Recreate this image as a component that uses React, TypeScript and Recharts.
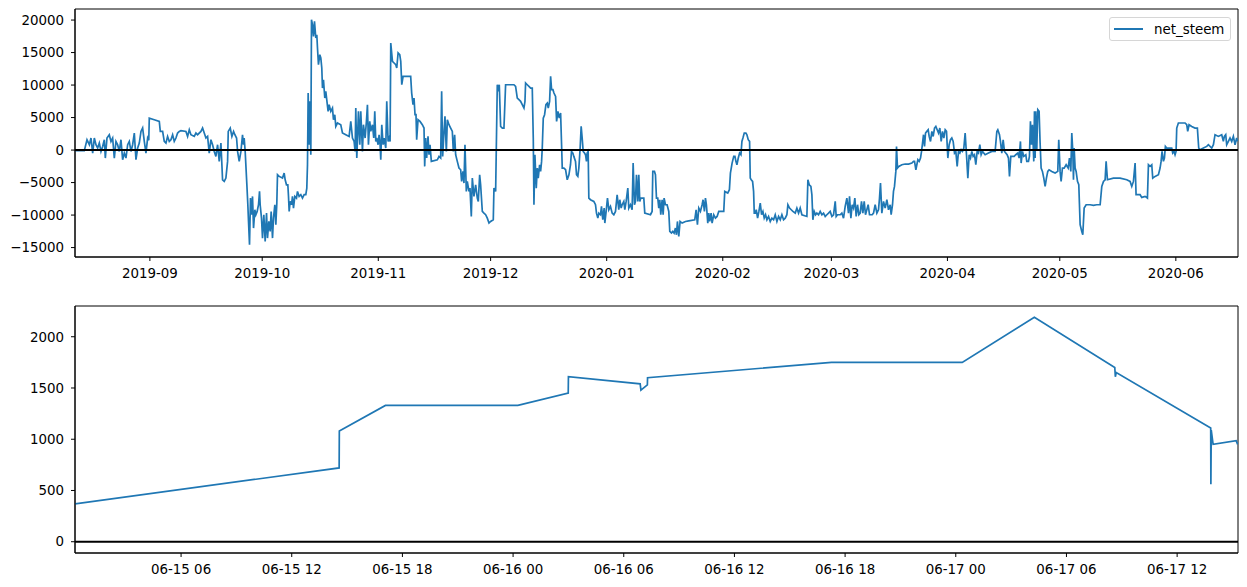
import {
  LineChart,
  Line,
  XAxis,
  YAxis,
  ReferenceLine,
  ReferenceArea,
} from "recharts";

// top panel: days since 2019-08-12, net_steem values
const topDays = [
  0, 2.49, 3.2, 3.83, 4.27, 4.72, 5.16, 5.6, 6.05, 6.49,
  6.94, 7.38, 7.83, 8.1, 8.54, 9.16, 9.61, 10.05, 10.5, 10.94,
  11.39, 11.83, 12.28, 12.72, 13.17, 13.61, 14.06, 14.5, 14.95, 15.39,
  15.84, 16.28, 16.73, 17.17, 17.62, 18.06, 18.51, 18.95, 19.4, 19.7,
  19.84, 21.17, 22.51, 22.78, 23.4, 23.84, 24.29, 24.73, 25.18, 25.62,
  26.07, 26.51, 26.96, 27.4, 27.85, 28.29, 29.63, 30.07, 30.52, 30.96,
  31.85, 32.3, 32.74, 33.63, 34.07, 34.52, 34.96, 35.41, 35.85, 36.3,
  36.74, 37.19, 37.63, 38.08, 38.52, 38.97, 39.41, 39.86, 40.3, 40.75,
  40.93, 41.46, 41.9, 42.35, 42.7, 43.15, 43.42, 43.86, 44.31, 44.74,
  45.0, 45.18, 45.45, 45.9, 46.16, 46.34, 46.61, 46.87, 47.14, 47.41,
  47.68, 48.03, 48.3, 48.65, 49.01, 49.28, 49.45, 49.81, 50.08, 50.43,
  50.79, 51.15, 51.41, 51.77, 52.12, 52.39, 52.75, 53.01, 53.37, 53.64,
  53.9, 54.08, 54.53, 55.42, 55.86, 56.13, 56.48, 56.84, 57.02, 57.2,
  57.46, 57.82, 58.08, 58.35, 58.71, 59.15, 59.42, 59.86, 60.31, 60.75,
  61.2, 61.64, 61.91, 62.09, 62.27, 62.53, 62.71, 62.98, 63.16, 63.42,
  63.69, 63.96, 64.31, 64.58, 64.76, 65.02, 65.38, 65.65, 65.91, 66.09,
  66.36, 66.71, 66.98, 67.34, 67.6, 67.87, 68.32, 68.76, 69.03, 69.38,
  69.65, 70.09, 70.98, 71.43, 72.32, 73.21, 73.65, 74.1, 74.54, 74.81,
  74.99, 75.26, 75.7, 76.06, 76.32, 76.77, 77.03, 77.48, 77.83, 78.1,
  78.37, 78.72, 78.99, 79.44, 79.79, 80.06, 80.33, 80.59, 80.95, 81.21,
  81.48, 81.66, 81.93, 82.28, 82.55, 83.0, 83.26, 83.62, 83.89, 84.15,
  84.33, 84.78, 85.22, 85.67, 85.93, 86.29, 86.73, 87.0, 87.27, 87.62,
  88.33, 89.65, 89.92, 90.27, 90.54, 90.81, 91.07, 91.25, 91.61, 92.14,
  92.76, 93.21, 93.39, 93.65, 93.92, 94.28, 94.54, 94.81, 95.17, 96.77,
  97.21, 97.66, 97.92, 98.19, 98.55, 98.81, 99.17, 99.44, 99.88, 100.33,
  100.77, 101.04, 101.39, 101.66, 102.1, 102.55, 103.0, 103.26, 103.62, 103.88,
  104.15, 104.51, 104.77, 105.22, 105.49, 105.84, 106.11, 106.55, 107.0, 107.44,
  107.71, 108.07, 108.33, 108.78, 109.22, 109.67, 110.11, 110.56, 111.0, 111.71,
  111.89, 112.34, 112.78, 113.05, 113.31, 113.67, 114.12, 114.56, 115.0, 117.23,
  117.67, 118.12, 118.56, 119.01, 119.45, 119.9, 120.17, 120.34, 120.79, 121.23,
  121.68, 122.12, 122.39, 122.57, 122.83, 123.19, 123.46, 123.72, 124.08, 124.35,
  124.61, 124.79, 125.06, 125.41, 125.77, 126.13, 126.39, 126.75, 127.02, 127.28,
  127.64, 127.91, 128.35, 128.62, 128.97, 129.33, 129.69, 129.95, 130.13, 130.57,
  131.02, 131.46, 131.91, 132.33, 132.6, 132.96, 133.22, 133.67, 133.94, 134.29,
  134.56, 134.91, 135.18, 135.45, 135.72, 136.07, 136.34, 136.6, 136.78, 137.05,
  137.23, 137.67, 138.56, 139.01, 139.27, 139.63, 139.9, 140.34, 140.61, 140.96,
  141.32, 141.5, 141.85, 142.21, 142.57, 143.01, 143.46, 143.9, 144.35, 144.79,
  145.23, 145.5, 145.86, 146.12, 146.57, 146.84, 147.19, 147.64, 147.9, 148.35,
  148.79, 149.06, 149.42, 149.68, 149.95, 150.31, 150.57, 150.84, 151.11, 151.91,
  152.17, 153.69, 154.13, 154.31, 154.75, 155.02, 155.29, 155.64, 155.91, 156.18,
  156.44, 156.8, 157.07, 157.33, 157.69, 158.13, 158.58, 158.85, 159.29, 159.65,
  160.0, 160.36, 160.63, 160.89, 161.25, 161.6, 162.14, 163.03, 163.92, 165.52,
  165.88, 166.23, 166.59, 167.03, 167.48, 167.74, 168.1, 168.37, 168.63, 168.99,
  169.26, 169.52, 169.88, 170.15, 170.59, 171.04, 171.48, 171.93, 173.26, 173.53,
  174.33, 174.77, 175.04, 175.49, 175.93, 176.25, 176.51, 176.78, 177.14, 177.49,
  177.85, 178.11, 178.38, 178.74, 179.18, 179.45, 179.8, 180.16, 180.34, 180.6,
  180.96, 181.23, 181.41, 181.67, 181.94, 182.3, 182.65, 183.01, 183.36, 183.72,
  184.07, 184.43, 184.79, 185.23, 185.68, 186.12, 186.57, 187.01, 187.46, 187.9,
  188.35, 188.79, 189.23, 189.68, 190.12, 190.39, 190.84, 191.28, 191.73, 192.35,
  192.79, 193.24, 193.68, 194.13, 195.46, 195.73, 196.09, 196.53, 196.8, 197.06,
  197.42, 197.78, 198.13, 198.58, 199.02, 199.47, 199.91, 200.36, 200.8, 201.25,
  201.69, 202.14, 202.58, 203.03, 203.29, 203.65, 204.36, 204.8, 205.25, 205.69,
  206.14, 206.58, 206.85, 207.21, 207.56, 207.92, 208.27, 208.63, 208.99, 209.34,
  209.7, 210.05, 210.41, 210.77, 211.12, 211.83, 212.19, 212.9, 213.26, 213.7,
  214.15, 214.59, 214.86, 215.12, 215.48, 215.93, 216.37, 216.82, 217.26, 217.71,
  217.97, 218.33, 218.59, 218.86, 219.22, 219.4, 219.66, 220.02, 220.83, 221.72,
  222.61, 223.5, 223.94, 224.21, 224.57, 224.83, 225.1, 225.46, 225.81, 226.08,
  226.35, 226.61, 226.88, 227.15, 227.5, 227.86, 228.12, 228.48, 228.84, 229.19,
  229.55, 229.9, 230.26, 230.62, 230.97, 231.33, 231.68, 232.04, 232.4, 232.75,
  233.11, 233.46, 233.82, 234.17, 234.53, 234.89, 235.24, 235.6, 235.95, 236.31,
  236.67, 237.02, 237.38, 237.73, 238.09, 238.45, 238.8, 239.16, 239.51, 239.87,
  240.22, 240.58, 240.94, 241.29, 241.65, 242.0, 242.36, 243.07, 243.96, 244.85,
  245.74, 246.19, 246.45, 246.9, 247.16, 247.52, 247.88, 248.23, 248.94, 249.3,
  249.57, 249.92, 250.81, 251.26, 251.79, 252.15, 252.5, 252.68, 253.04, 253.39,
  253.93, 254.19, 254.64, 254.9, 255.17, 255.44, 255.7, 256.06, 256.24, 256.42,
  256.59, 256.86, 257.13, 257.48, 257.75, 258.02, 258.37, 258.73, 259.09, 259.44,
  259.8, 260.15, 260.87, 261.76, 262.47, 262.73, 263.09, 263.36, 263.71, 264.17,
  264.7, 265.24, 265.59, 265.95, 266.21, 266.48, 266.66, 266.84, 267.1, 267.37,
  267.73, 268.08, 268.44, 268.88, 269.15, 269.51, 270.04, 271.11, 272.0, 272.89,
  273.78, 274.22, 274.67, 275.11, 275.38, 275.73, 277.33, 279.11, 280.89, 281.78,
  282.23, 282.67, 283.12, 283.38, 284.45, 284.9, 285.79, 286.41, 286.68, 287.12,
  287.57, 287.83, 288.46, 289.35, 289.79, 290.06, 290.32, 290.68, 290.95, 291.21,
  291.57, 292.9, 293.17, 293.53, 293.79, 294.06, 294.24, 294.68, 296.46, 296.91,
  297.17, 297.53, 298.24, 299.13, 299.75, 300.11, 300.47, 301.36, 302.25, 302.69,
  303.58, 304.03, 304.47, 305.36, 306.25, 306.69, 306.96, 307.32, 307.58, 308.03,
  308.47, 308.92, 309.36, 309.81, 310.25, 310.43,
];

const topNetSteem = [
  -100, -100, 1590, 820, 1850, -460, 1850, 820, 310, 1080,
  -210, 560, 1590, -1230, 1850, 2360, 1330, 1850, -1230, 1330,
  820, -210, 1590, -1490, -460, -1230, 820, 1330, -210, 820,
  2620, -1490, 310, 1080, 2870, 3390, 1330, -460, 1850, 1500,
  4920, 4670, 4410, 2870, 2870, 1330, 1080, 2100, 1330, 1590,
  2360, 1330, 1850, 2620, 2870, 2980, 2870, 2100, 3130, 2360,
  2100, 2620, 2360, 2870, 3390, 2620, 1850, 2100, -460, 1590,
  820, -210, -970, 820, -1740, 1080, -4570, -4820, -4310, -1740,
  2870, 3390, 2100, 2870, 2360, 1850, -210, -1740, -210, 2360,
  820, 1850, -210, -5340, -8410, -10980, -14570, -7390, -9950, -7130,
  -12000, -9180, -9950, -9440, -8410, -6360, -8410, -10470, -13540, -9950,
  -14060, -9700, -13540, -10980, -12520, -9440, -13540, -10470, -8410, -11490,
  -8160, -3800, -4050, -4310, -3540, -4570, -5340, -5340, -7130, -9440,
  -7900, -8410, -7130, -8930, -7130, -7390, -6360, -7130, -6870, -7390,
  -6870, -6870, -5850, -2260, 8770, 820, 7490, -720, 20060, 19290,
  17490, 19800, 17240, 17750, 15700, 13130, 14670, 14160, 12620, 9540,
  10820, 8000, 9030, 7230, 5950, 6980, 5950, 6460, 4670, 5440,
  3640, 4160, 3900, 2620, 2360, 2100, 4410, 1850, 1330, -210,
  6460, -1230, 5950, 820, 5950, -210, 3900, 1850, 4410, 6980,
  820, 4410, 2870, 3900, 1850, 5950, 1330, 1850, 820, 2360,
  820, -1490, 3900, 820, 1850, 310, 7490, 1330, 1850, 1330,
  16470, 13650, 13390, 13130, 12620, 14930, 14670, 13650, 10050, 11340,
  11340, 11340, 8770, 6980, 8000, 5440, 5440, 1590, 4670, 4410,
  3900, 3390, -2510, 1850, -1230, 2100, -720, 820, -1740, -1490,
  -970, -1230, 9030, -970, 2870, 5180, -210, 4670, 3900, 3390,
  2870, -210, 2360, -720, -1740, -2770, -3030, -4820, -3280, -5080,
  820, -6360, -4820, -6360, -5850, -10210, -4310, -7130, -5340, -7390,
  -7900, -3800, -5340, -9440, -9700, -9950, -10470, -11230, -10980, -10720,
  -5850, -6360, 10050, 9030, 10050, 3640, 3390, 3390, 10050, 10050,
  9800, 8000, 7750, 7490, 6980, 6460, 7490, 10310, 10050, 9800,
  9540, 9540, 1850, -8410, -720, -5850, -2770, -4310, -2260, -3280,
  -1740, 310, 4920, 5440, 6980, 7230, 6460, 7490, 11340, 9290,
  9290, 8770, 8260, 4410, 5950, 4920, 5690, 820, -2770, -2770,
  -3030, -4570, -3800, -2260, -210, -460, -970, -1740, -3800, -4050,
  -2770, 310, 3640, 1850, -210, -460, -720, -1740, -460, -210,
  -7390, -7640, -7900, -8410, -9700, -10470, -9700, -9950, -8670, -10720,
  -8930, -11230, -9440, -7390, -9180, -8670, -9700, -9950, -9440, -6870,
  -9180, -7640, -8930, -8410, -7900, -9180, -7900, -5850, -8930, -8410,
  -9180, -2000, -8410, -7900, -3800, -7900, -3800, -7900, -7390, -7390,
  -9700, -9950, -9440, -3280, -3280, -3800, -7390, -7390, -8930, -7640,
  -9950, -7640, -9950, -7390, -8410, -8410, -9440, -12520, -12770, -12520,
  -12770, -12000, -13030, -10980, -13290, -10980, -11230, -10980, -10880, -10720,
  -9180, -11490, -8930, -9440, -8410, -7640, -9440, -7390, -8410, -11230,
  -9700, -10980, -9700, -11230, -9950, -10470, -10210, -9440, -9440, -6360,
  -6620, -6100, -3540, -2000, -970, -970, -1740, -2260, -1230, -460,
  -720, 1330, 1850, 2620, 2620, 2360, 1590, 1330, -4310, -4570,
  -4820, -6360, -9700, -9700, -9180, -10470, -9440, -8160, -9950, -9440,
  -10470, -9950, -10720, -10210, -10980, -10470, -10720, -9950, -10980, -10210,
  -10720, -9950, -10720, -10470, -9950, -8410, -8930, -9180, -9440, -9700,
  -8930, -9700, -8930, -9950, -10210, -4570, -5340, -5590, -6870, -10720,
  -9440, -9950, -9700, -9950, -9440, -9950, -9700, -10210, -9950, -9700,
  -9440, -10210, -9950, -7900, -10210, -9950, -9950, -9700, -10470, -8670,
  -7390, -9700, -7130, -10470, -8410, -8930, -7390, -10210, -8410, -9950,
  -9700, -7900, -9700, -7900, -9950, -8410, -9950, -9950, -9700, -8410,
  -9700, -9180, -7390, -5080, -9700, -7900, -8930, -7640, -9180, -8410,
  -9950, -8410, -6360, -5590, -3280, 560, -2770, -2510, -2260, -2150,
  -2150, -2000, -1740, -1740, -3030, -2260, -1490, -1740, -1230, -210,
  1080, 2360, 560, 2620, 2870, 3130, 2100, 1330, 2870, 2100,
  3390, 3640, 3130, 2620, 3390, 1330, 2870, 1850, 3130, 2870,
  -1230, 820, 1590, 1850, 1330, -460, -210, -2510, -210, -460,
  50, -210, 310, 2620, -720, -4310, -720, -1230, -210, -970,
  -720, -2260, -210, -460, 820, -720, -210, -720, -460, -210,
  -210, 2870, 3130, 2360, 1330, -460, 1590, -210, -720, -1230,
  -4050, -970, -970, -720, -460, -1230, 1330, -2000, -210, -970,
  -720, -1740, -1740, -970, 4410, 820, 3900, -1740, 5950, -1230,
  5950, 0, 6210, 5950, 1080, -2770, -3280, -4310, -5590, -4310,
  -3280, -3030, -3280, -3540, -3280, 1590, -3280, -4820, -2770, -2770,
  -2260, -2770, -1230, -3280, 2620, -210, -4570, 310, -2770, -3280,
  -4820, -5340, -11490, -12520, -13030, -8930, -8410, -8410, -8520, -8410,
  -8410, -5590, -4820, -4570, -1740, -4570, -4310, -4310, -4570, -4820,
  -5590, -4820, -2000, -6870, -6870, -7280, -7130, -7390, -2260, -2510,
  -2260, -4310, -4050, -3800, -2770, -1740, -210, -1740, -1230, 560,
  310, 310, -460, -210, -720, -210, 3390, 4160, 4160, 3900,
  2870, 3900, 3640, 3390, 3390, 310, 50, 310, 560, 820,
  310, 820, 2360, 2100, 2360, 1330, 2100, 2360, 820, 1330,
  1850, 1330, 2100, 820, 1850, 1330,
];

const topTickDays = [20, 50, 81, 111, 142, 173, 202, 233, 263, 294];
const topTickLabels = [
  "2019-09", "2019-10", "2019-11", "2019-12", "2020-01",
  "2020-02", "2020-03", "2020-04", "2020-05", "2020-06",
];
const topYTicks = [-15000, -10000, -5000, 0, 5000, 10000, 15000, 20000];

// bottom panel: hours since 06-15 00:00
const bottomHours = [
  0.25, 14.57, 14.58, 17.08, 24.26, 26.99, 27.0, 30.89, 30.93, 31.28,
  31.29, 41.26, 48.35, 52.26, 56.62, 56.65, 56.7, 61.82, 61.83, 61.85,
  61.95, 63.2, 63.28,
];
const bottomNetSteem = [
  370, 720, 1080, 1330, 1330, 1450, 1610, 1540, 1480, 1530,
  1600, 1750, 1750, 2190, 1700, 1610, 1650, 1110, 560, 1090,
  950, 985, 950,
];
const bottomTickHours = [6, 12, 18, 24, 30, 36, 42, 48, 54, 60];
const bottomTickLabels = [
  "06-15 06", "06-15 12", "06-15 18", "06-16 00", "06-16 06",
  "06-16 12", "06-16 18", "06-17 00", "06-17 06", "06-17 12",
];
const bottomYTicks = [0, 500, 1000, 1500, 2000];

const BLUE = "#1f77b4";
const FONT = "'DejaVu Sans', sans-serif";
const tickStyle = { fill: "#000", fontSize: 13.4, fontFamily: FONT };

const topData = topDays.map((t, i) => ({ t, v: topNetSteem[i] }));
const bottomData = bottomHours.map((t, i) => ({ t, v: bottomNetSteem[i] }));

const minus = (v: number) => String(v).replace("-", "\u2212");

function LegendBox() {
  return (
    <div
      style={{
        position: "absolute",
        left: 1109,
        top: 17,
        width: 122,
        height: 24,
        border: "1px solid #d6d6d6",
        borderRadius: 3,
        background: "rgba(255,255,255,0.8)",
        display: "flex",
        alignItems: "center",
        fontFamily: FONT,
        fontSize: 13.4,
        color: "#000",
        boxSizing: "border-box",
      }}
    >
      <span
        style={{
          display: "inline-block",
          width: 29,
          height: 0,
          borderTop: `2px solid ${BLUE}`,
          marginLeft: 4,
          marginRight: 11,
        }}
      />
      <span>net_steem</span>
    </div>
  );
}

export default function App() {
  const topX: [number, number] = [0, 310.6];
  const topY: [number, number] = [-16450, 21700];
  const botX: [number, number] = [0.25, 63.3];
  const botY: [number, number] = [-110, 2300];

  return (
    <div
      style={{
        position: "absolute",
        left: 0,
        top: 0,
        width: 1247,
        height: 587,
        background: "#fff",
      }}
    >
      {/* top panel */}
      <div style={{ position: "absolute", left: 0, top: 0 }}>
        <LineChart
          width={1247}
          height={290}
          data={topData}
          margin={{ top: 9, right: 9, bottom: 3, left: 0 }}
        >
          <XAxis
            type="number"
            dataKey="t"
            domain={topX}
            allowDataOverflow
            ticks={topTickDays}
            tickFormatter={(d: number) => topTickLabels[topTickDays.indexOf(d)] ?? ""}
            height={30}
            tickSize={4}
            tickMargin={7}
            tick={tickStyle}
            stroke="#000"
            interval={0}
          />
          <YAxis
            type="number"
            domain={topY}
            allowDataOverflow
            ticks={topYTicks}
            tickFormatter={minus}
            width={75}
            tickSize={4}
            tickMargin={7}
            tick={tickStyle}
            stroke="#000"
            interval={0}
          />
          <Line
            type="linear"
            dataKey="v"
            stroke={BLUE}
            strokeWidth={1.7}
            dot={false}
            isAnimationActive={false}
          />
          <ReferenceLine y={0} stroke="#000" strokeWidth={2} />
          <ReferenceArea
            x1={topX[0]}
            x2={topX[1]}
            y1={topY[0]}
            y2={topY[1]}
            fill="none"
            stroke="#000"
            strokeWidth={1}
          />
        </LineChart>
        <LegendBox />
      </div>

      {/* bottom panel */}
      <div style={{ position: "absolute", left: 0, top: 290 }}>
        <LineChart
          width={1247}
          height={297}
          data={bottomData}
          margin={{ top: 16, right: 9, bottom: 4, left: 0 }}
        >
          <XAxis
            type="number"
            dataKey="t"
            domain={botX}
            allowDataOverflow
            ticks={bottomTickHours}
            tickFormatter={(h: number) => bottomTickLabels[bottomTickHours.indexOf(h)] ?? ""}
            height={30}
            tickSize={4}
            tickMargin={7}
            tick={tickStyle}
            stroke="#000"
            interval={0}
          />
          <YAxis
            type="number"
            domain={botY}
            allowDataOverflow
            ticks={bottomYTicks}
            width={75}
            tickSize={4}
            tickMargin={7}
            tick={tickStyle}
            stroke="#000"
            interval={0}
          />
          <Line
            type="linear"
            dataKey="v"
            stroke={BLUE}
            strokeWidth={1.7}
            dot={false}
            isAnimationActive={false}
          />
          <ReferenceLine y={0} stroke="#000" strokeWidth={2} />
          <ReferenceArea
            x1={botX[0]}
            x2={botX[1]}
            y1={botY[0]}
            y2={botY[1]}
            fill="none"
            stroke="#000"
            strokeWidth={1}
          />
        </LineChart>
      </div>
    </div>
  );
}
